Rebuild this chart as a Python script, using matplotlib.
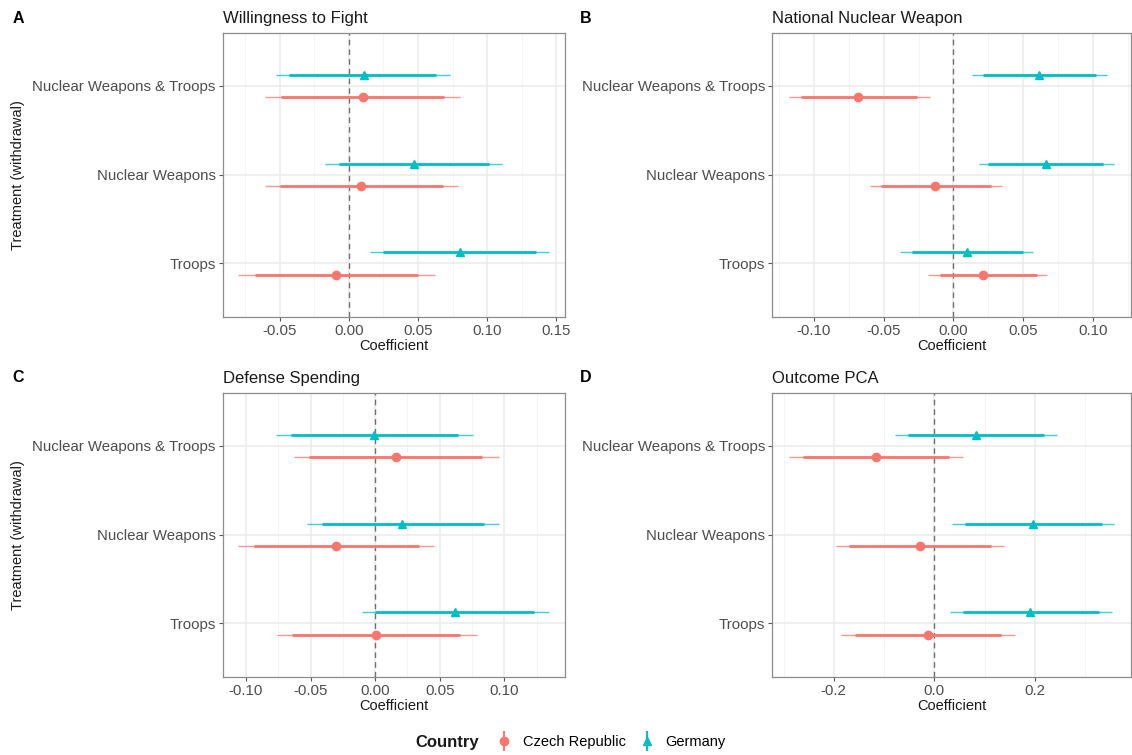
import matplotlib.pyplot as plt
from matplotlib.lines import Line2D
from matplotlib.legend_handler import HandlerTuple
from matplotlib.ticker import FormatStrFormatter, MultipleLocator

plt.rcParams['font.family'] = ['Liberation Sans', 'DejaVu Sans']
plt.rcParams['axes.unicode_minus'] = False

# Treatments, bottom to top
treatments = ["Troops", "Nuclear Weapons", "Nuclear Weapons & Troops"]
countries = ["Czech Republic", "Germany"]

# each row: (estimate, lo95, lo90, hi90, hi95), same order as treatments
fight_cz = [(-0.009, -0.080, -0.068, 0.050, 0.062),
            (0.009, -0.061, -0.050, 0.068, 0.079),
            (0.010, -0.061, -0.049, 0.069, 0.080)]
fight_de = [(0.080, 0.015, 0.025, 0.135, 0.145),
            (0.047, -0.017, -0.007, 0.101, 0.111),
            (0.011, -0.053, -0.043, 0.063, 0.073)]

nuke_cz = [(0.021, -0.018, -0.010, 0.060, 0.067),
           (-0.013, -0.060, -0.052, 0.027, 0.035),
           (-0.068, -0.118, -0.109, -0.026, -0.017)]
nuke_de = [(0.010, -0.038, -0.030, 0.050, 0.057),
           (0.066, 0.018, 0.025, 0.107, 0.115),
           (0.061, 0.013, 0.021, 0.102, 0.110)]

spend_cz = [(0.001, -0.076, -0.064, 0.066, 0.079),
            (-0.030, -0.106, -0.094, 0.034, 0.046),
            (0.016, -0.063, -0.051, 0.083, 0.096)]
spend_de = [(0.062, -0.010, 0.000, 0.123, 0.135),
            (0.021, -0.053, -0.041, 0.084, 0.096),
            (-0.001, -0.077, -0.065, 0.064, 0.076)]

pca_cz = [(-0.013, -0.185, -0.158, 0.133, 0.161),
          (-0.028, -0.196, -0.169, 0.113, 0.139),
          (-0.116, -0.290, -0.262, 0.029, 0.057)]
pca_de = [(0.191, 0.031, 0.057, 0.327, 0.353),
          (0.197, 0.036, 0.062, 0.333, 0.358),
          (0.083, -0.078, -0.053, 0.219, 0.244)]

panels = [("A", "Willingness to Fight", fight_cz, fight_de, 0.05, "%.2f"),
          ("B", "National Nuclear Weapon", nuke_cz, nuke_de, 0.05, "%.2f"),
          ("C", "Defense Spending", spend_cz, spend_de, 0.05, "%.2f"),
          ("D", "Outcome PCA", pca_cz, pca_de, 0.2, "%.1f")]

colors = {"Czech Republic": "#F8766D", "Germany": "#00BFC4"}
markers = {"Czech Republic": "o", "Germany": "^"}
offsets = {"Czech Republic": -0.125, "Germany": 0.125}

fig = plt.figure(figsize=(11.32, 7.55), dpi=100)

# axes rectangles [left, bottom, width, height]
rects = [[0.1967, 0.5805, 0.3024, 0.3762],
         [0.6822, 0.5805, 0.3165, 0.3762],
         [0.1967, 0.1037, 0.3024, 0.3762],
         [0.6822, 0.1037, 0.3165, 0.3762]]

for i, (letter, title, cz, de, step, fmt) in enumerate(panels):
    ax = fig.add_axes(rects[i])
    for country, rows in (("Czech Republic", cz), ("Germany", de)):
        ys = [k + 1 + offsets[country] for k in range(len(rows))]
        est = [r[0] for r in rows]
        c = colors[country]
        ax.hlines(ys, [r[1] for r in rows], [r[4] for r in rows],
                  color=c, lw=1.0, alpha=0.75, zorder=3)
        ax.hlines(ys, [r[2] for r in rows], [r[3] for r in rows],
                  color=c, lw=2.0, zorder=4)
        ax.plot(est, ys, ls='none', marker=markers[country], color=c,
                markersize=6, zorder=5)

    ax.axvline(0, color='#707070', ls=(0, (4, 3)), lw=1.0, zorder=2)
    ax.set_ylim(0.4, 3.6)
    ax.set_yticks([1, 2, 3])
    ax.set_yticklabels(treatments)
    ax.xaxis.set_major_locator(MultipleLocator(step))
    ax.xaxis.set_minor_locator(MultipleLocator(step / 2))
    ax.xaxis.set_major_formatter(FormatStrFormatter(fmt))
    ax.margins(x=0.05)

    ax.grid(True, which='major', color='#EBEBEB', lw=1.1, zorder=0)
    ax.grid(True, which='minor', axis='x', color='#F2F2F2', lw=0.6, zorder=0)
    ax.set_axisbelow(True)
    for s in ax.spines.values():
        s.set_color('#8C8C8C')
        s.set_linewidth(0.9)
    ax.tick_params(which='major', length=3, color='#555555', width=0.8,
                   labelsize=10.8, labelcolor='#4D4D4D', pad=2)
    ax.tick_params(which='minor', length=0)

    ax.set_xlabel("Coefficient", fontsize=10.5, color='#1A1A1A', labelpad=1)
    if i % 2 == 0:
        ax.set_ylabel("Treatment (withdrawal)", fontsize=10.5, color='#1A1A1A')
        ax.yaxis.set_label_coords(-0.576, 0.5)
    ax.set_title(title, loc='left', fontsize=12, color='#1A1A1A', pad=7)

    lx = 0.011 if i % 2 == 0 else 0.512
    ly = 0.976 if i < 2 else 0.500
    fig.text(lx, ly, letter, fontsize=11.5, fontweight='bold', va='center')

# legend at the bottom
handles = []
for country in countries:
    bar = Line2D([], [], color=colors[country], marker='|', markersize=15,
                 markeredgewidth=1.4, ls='none')
    pt = Line2D([], [], color=colors[country], marker=markers[country],
                markersize=6, ls='none')
    handles.append((bar, pt))

fig.text(0.367, 0.017, "Country", fontsize=12, fontweight='bold',
         va='center', color='#1A1A1A')
fig.legend(handles, countries, handler_map={tuple: HandlerTuple(ndivide=1)},
           loc='center left', bbox_to_anchor=(0.4325, 0.017), ncol=2,
           frameon=False, fontsize=10.5, handlelength=1.0, handletextpad=0.8,
           columnspacing=0.9, borderpad=0)

fig.savefig("out.png", dpi=100)
